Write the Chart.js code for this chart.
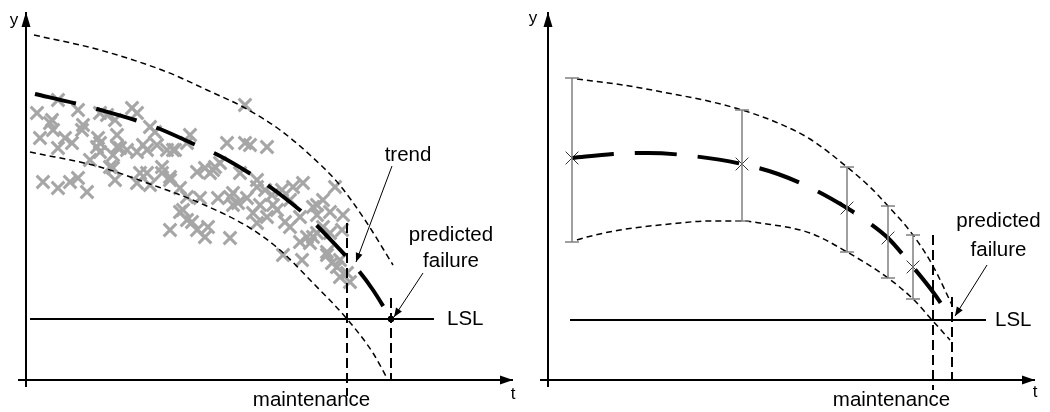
<!DOCTYPE html>
<html>
<head>
<meta charset="utf-8">
<script src="https://cdn.jsdelivr.net/npm/chart.js@4/dist/chart.umd.min.js"></script>
<style>
  html, body { margin: 0; padding: 0; background: #fff; }
  #wrap { position: relative; width: 1050px; height: 412px; }
  #wrap canvas { position: absolute; top: 0; }
</style>
</head>
<body>
<div id="wrap">
  <canvas id="left" width="525" height="412" style="left:0"></canvas>
  <canvas id="right" width="525" height="412" style="left:525px"></canvas>
</div>
<script>
// ---------- scale ranges (time t, condition y; arbitrary units) ----------
const T_RANGE = [0, 97.4];
const Y_RANGE = [0, 73.6];

// ---------- left panel: condition measurements ----------
const obsT = [2.2, 6.4, 10.4, 5.2, 5.4, 2.8, 7.8, 9.2, 6.4, 11.4, 14.4, 14.2, 14.8, 16.2, 17.8, 21.2, 22.2, 18.2, 18.8, 20.2,
  17.4, 12.8, 22.2, 23.4, 24.8, 25.8, 28.2, 24.2, 27.2, 28.8, 3.4, 6.4, 8.8, 10.4, 12.2, 17.4, 17.8, 22.2, 24.8, 28.8,
  30.8, 32.2, 34.2, 36.4, 35.8, 40.8, 42.4, 44.2, 45.4, 43.8, 32.8, 26.2, 29.8, 40.2, 44.8, 48.2, 27.2, 34.2, 35.8, 37.8,
  38.8, 36.8, 30.8, 34.8, 38.4, 40.8, 46.2, 47.8, 49.2, 51.2, 53.4, 55.4, 61.8, 41.4, 46.8, 49.4, 31.4, 33.2, 46.2, 51.8,
  52.8, 58.2, 59.4, 58.2, 60.8, 63.4, 54.8, 56.2, 57.4, 59.4, 60.8, 63.2, 51.4, 56.8, 61.2, 62.8, 52.8, 50.2, 48.2, 54.8,
  57.4, 58.2, 60.2, 55.2, 60.2, 62.2, 62.8, 64.2, 64.8, 11.2, 14.8, 29.4, 32.2, 42.8, 46.2, 22.8, 32.2, 41.4, 16.8,
  4.8, 14.8, 18.2, 24.2, 37.4, 43.8, 28.8];
const obsY = [53.4, 56, 54, 52, 50, 48.4, 48.4, 47.4, 46.4, 51, 48.4, 46.6, 45.6, 53, 52, 54.4, 53.4, 49, 46.4, 46,
  45, 44, 45.6, 47, 50.6, 49.6, 46, 41.4, 41.4, 40.6, 39.6, 38.4, 39.6, 40.4, 37.6, 42.4, 40, 39.4, 39, 30,
  33.6, 32, 30, 30.6, 28.6, 28.4, 35.4, 36.4, 33.4, 55, 49, 47, 46, 47.4, 47, 46.6, 42.6, 41.6, 42.4, 42.6,
  43.4, 41.4, 38.4, 36.4, 36.4, 36.6, 38.6, 38, 37, 38, 38.6, 39.4, 38.6, 35, 35, 35, 34, 31.6, 31.4, 31.6,
  30.6, 35, 36, 33, 33.6, 33, 27.6, 28.6, 28.6, 30.6, 29.4, 30, 25, 27.4, 23.4, 24, 36, 34, 32.6, 32.6,
  34.6, 29.4, 25.6, 24, 25, 22.6, 20.6, 21.4, 19.6, 50, 47.4, 46, 47.4, 41.4, 40, 41.4, 36.6, 37.4, 42.6,
  51.4, 53.4, 46.6, 46, 42, 47.4, 40];

// fitted trend and its confidence band
const trendLeftT = [1.8, 10, 14.2, 22.4, 26.8, 34.4, 38.8, 46.2, 50.2, 56.8, 60.4, 66.4, 69.4, 73];
const trendLeftY = [57.2, 55.3, 54.2, 51.8, 50.2, 46.8, 44.8, 40.4, 37.6, 32.2, 28.6, 22, 18, 12.2];
const upperLeftT = [1.6, 14.8, 28.2, 36.2, 43.8, 50.8, 56.8, 62.4, 67.8, 73.4];
const upperLeftY = [69, 66, 61.6, 58, 54.4, 50, 45, 39.4, 32, 23];
const lowerLeftT = [0.8, 14.8, 24.8, 34.8, 44.8, 50.8, 57.4, 64.2, 69.4, 72.4];
const lowerLeftY = [45.6, 42.6, 39.2, 35.4, 30.4, 26, 19.4, 12.2, 5.4, 0];

const lslLeft = 12.2;
const lslLeftSpan = [0.8, 81.6];
const maintLeftT = 64.2;
const maintLeftSpan = [31.4, -3.2];
const failLeftT = 73;
const failLeftSpan = [16.4, 0];

// ---------- right panel: periodic estimates with uncertainty ----------
const estT = [4.8, 38.8, 59.8, 68, 73];
const estMid = [44.4, 43.2, 34.4, 28.4, 22.6];
const estHigh = [60.4, 54, 42.6, 34.8, 29];
const estLow = [27.6, 31.8, 25.6, 20.4, 16.2];

const trendRightT = [4.8, 13, 20, 28, 38.8, 46, 53, 59.8, 64, 68, 73, 77, 80.8];
const trendRightY = [44.4, 45.2, 45.4, 44.9, 43.2, 41.2, 38.2, 34.4, 31.6, 28.4, 22.6, 17.6, 12];
const upperRightT = [5.8, 15, 25, 32, 38.8, 46, 52.4, 59.8, 64.4, 68, 73, 77, 80.8];
const upperRightY = [60.2, 59, 57.2, 55.8, 54, 51.4, 48.2, 42.6, 38.6, 34.8, 29, 22.8, 15];
const lowerRightT = [5.8, 7.8, 14.4, 26.4, 31.8, 38.8, 42.4, 52.4, 59.8, 68, 73, 76.8, 80.4];
const lowerRightY = [28, 28.6, 30, 31.4, 31.8, 31.8, 31.4, 29.4, 25.6, 20.4, 16.2, 12, 8];

const lslRight = 12;
const lslRightSpan = [4.4, 87.6];
const maintRightT = 77;
const maintRightSpan = [29, -2];
const failRightT = 80.8;
const failRightSpan = [16.6, 0];

// ---------- helpers ----------
const zip = (ts, ys) => ts.map((t, i) => ({ x: t, y: ys[i] }));
const hLine = (y, span) => [{ x: span[0], y }, { x: span[1], y }];
const vLine = (t, span) => [{ x: t, y: span[0] }, { x: t, y: span[1] }];

const FONT = '"Liberation Sans", Arial, Helvetica, sans-serif';

function arrowHead(ctx, x0, y0, x1, y1, len, half) {
  const a = Math.atan2(y1 - y0, x1 - x0);
  const c = Math.cos(a), s = Math.sin(a);
  ctx.beginPath();
  ctx.moveTo(x1, y1);
  ctx.lineTo(x1 - len * c + half * s, y1 - len * s - half * c);
  ctx.lineTo(x1 - len * c - half * s, y1 - len * s + half * c);
  ctx.closePath();
  ctx.fill();
}

// axes with arrows, annotations, leader arrows and error bars
const decor = {
  id: 'decor',
  afterDatasetsDraw(chart, args, o) {
    const ctx = chart.ctx;
    const sx = chart.scales.x, sy = chart.scales.y;
    const P = (t, y) => [sx.getPixelForValue(t), sy.getPixelForValue(y)];
    ctx.save();

    // error bars
    if (o.bars) {
      const b = o.bars;
      ctx.strokeStyle = '#808080';
      ctx.lineWidth = 1.5;
      b.t.forEach((t, i) => {
        const [x, yTop] = P(t, b.high[i]);
        const [, yBot] = P(t, b.low[i]);
        ctx.beginPath();
        ctx.moveTo(x, yTop); ctx.lineTo(x, yBot);
        ctx.moveTo(x - 7, yTop); ctx.lineTo(x + 7, yTop);
        ctx.moveTo(x - 7, yBot); ctx.lineTo(x + 7, yBot);
        ctx.stroke();
      });
    }

    // axes
    ctx.strokeStyle = '#000';
    ctx.fillStyle = '#000';
    ctx.lineWidth = 2;
    ctx.setLineDash([]);
    o.axes.forEach(ax => {
      const [x0, y0] = P(ax.from[0], ax.from[1]);
      const [x1, y1] = P(ax.to[0], ax.to[1]);
      const [xs, ys] = P(ax.start[0], ax.start[1]);
      ctx.beginPath();
      ctx.moveTo(xs, ys); ctx.lineTo(x1, y1);
      ctx.stroke();
      arrowHead(ctx, x0, y0, x1, y1, ax.len, ax.half);
    });

    // leader arrows
    ctx.lineWidth = 1;
    o.leaders.forEach(l => {
      const [x0, y0] = P(l.from[0], l.from[1]);
      const [x1, y1] = P(l.to[0], l.to[1]);
      ctx.beginPath();
      ctx.moveTo(x0, y0); ctx.lineTo(x1, y1);
      ctx.stroke();
      arrowHead(ctx, x0, y0, x1, y1, 9, 3.5);
    });

    // labels
    ctx.textBaseline = 'middle';
    o.labels.forEach(l => {
      const [x, y] = P(l.at[0], l.at[1]);
      ctx.font = (l.size || 20.5) + 'px ' + FONT;
      ctx.textAlign = l.align || 'center';
      ctx.fillText(l.text, x, y);
    });
    ctx.restore();
  }
};

const curve = (data, extra) => Object.assign({
  data, borderColor: '#000', pointRadius: 0, fill: false, clip: false,
  cubicInterpolationMode: 'monotone'
}, extra);
const straight = (data, extra) => Object.assign({
  data, borderColor: '#000', pointRadius: 0, fill: false, clip: false, tension: 0
}, extra);

function makeChart(id, padding, datasets, decorOpts) {
  return new Chart(document.getElementById(id), {
    type: 'line',
    data: { datasets },
    options: {
      responsive: false,
      animation: false,
      events: [],
      layout: { padding },
      plugins: { legend: { display: false }, tooltip: { enabled: false }, decor: decorOpts },
      scales: {
        x: { type: 'linear', min: T_RANGE[0], max: T_RANGE[1], display: false },
        y: { type: 'linear', min: Y_RANGE[0], max: Y_RANGE[1], display: false }
      }
    },
    plugins: [decor]
  });
}

const axesFor = () => [
  { start: [0, -1.4], from: [0, 0], to: [0, Y_RANGE[1]], len: 15, half: 4.5 },
  { start: [-1.6, 0], from: [0, 0], to: [T_RANGE[1], 0], len: 13, half: 4.5 }
];

// ---------- left chart ----------
makeChart('left', { left: 26, right: 12, top: 12, bottom: 32 }, [
  curve(zip(trendLeftT, trendLeftY), { borderWidth: 4, borderDash: [42, 21] }),
  { data: [{ x: failLeftT, y: lslLeft }], showLine: false, pointRadius: 3, pointBackgroundColor: '#000',
    pointBorderColor: '#000', clip: false },
  curve(zip(upperLeftT, upperLeftY), { borderWidth: 1.5, borderDash: [6, 4] }),
  curve(zip(lowerLeftT, lowerLeftY), { borderWidth: 1.5, borderDash: [6, 4] }),
  straight(vLine(maintLeftT, maintLeftSpan), { borderWidth: 2, borderDash: [10, 5] }),
  straight(vLine(failLeftT, failLeftSpan), { borderWidth: 2, borderDash: [10, 5] }),
  straight(hLine(lslLeft, lslLeftSpan), { borderWidth: 2 }),
  { data: zip(obsT, obsY), showLine: false, pointStyle: 'crossRot', pointRadius: 9,
    pointBorderColor: '#a6a6a6', pointBorderWidth: 3, clip: false }
], {
  axes: axesFor(),
  leaders: [
    { from: [73.2, 42.8], to: [66, 23.6] },
    { from: [79.4, 21.4], to: [73.6, 12.6] }
  ],
  labels: [
    { text: 'y', at: [-2.4, 72], size: 17 },
    { text: 't', at: [97.4, -2.8], size: 17 },
    { text: 'trend', at: [76.4, 45] },
    { text: 'predicted', at: [85, 29] },
    { text: 'failure', at: [85, 23.8] },
    { text: 'LSL', at: [84.2, lslLeft], align: 'left' },
    { text: 'maintenance', at: [57.1, -4] }
  ]
});

// ---------- right chart ----------
makeChart('right', { left: 23, right: 15, top: 12, bottom: 32 }, [
  curve(zip(trendRightT, trendRightY), { borderWidth: 4, borderDash: [42, 21] }),
  { data: zip(estT, estMid), showLine: false, pointStyle: 'crossRot', pointRadius: 9,
    pointBorderColor: '#333', pointBorderWidth: 1, clip: false },
  curve(zip(upperRightT, upperRightY), { borderWidth: 1.5, borderDash: [6, 4] }),
  curve(zip(lowerRightT, lowerRightY), { borderWidth: 1.5, borderDash: [6, 4] }),
  straight(vLine(maintRightT, maintRightSpan), { borderWidth: 2, borderDash: [10, 5] }),
  straight(vLine(failRightT, failRightSpan), { borderWidth: 2, borderDash: [10, 5] }),
  straight(hLine(lslRight, lslRightSpan), { borderWidth: 2 })
], {
  axes: axesFor(),
  bars: { t: estT, high: estHigh, low: estLow },
  leaders: [
    { from: [87.8, 23], to: [81.4, 12.8] }
  ],
  labels: [
    { text: 'y', at: [-3, 72.4], size: 17 },
    { text: 't', at: [97.4, -2.4], size: 17 },
    { text: 'predicted', at: [90.1, 31.8] },
    { text: 'failure', at: [90.1, 26] },
    { text: 'LSL', at: [89.4, lslRight], align: 'left' },
    { text: 'maintenance', at: [68.7, -4] }
  ]
});
</script>
</body>
</html>
